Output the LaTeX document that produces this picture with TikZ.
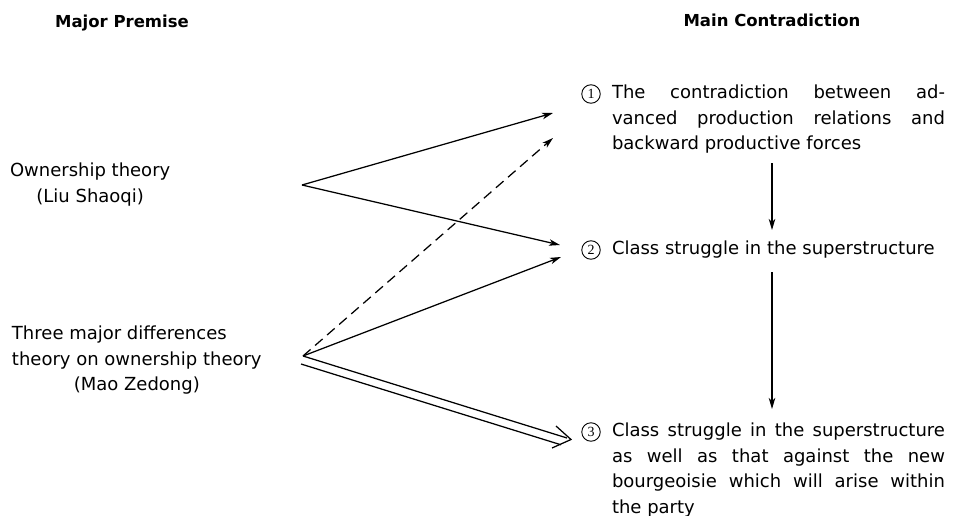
\documentclass[tikz,border=0pt]{standalone}
\usepackage{fontspec}
\setmainfont{DejaVu Sans}
\newfontfamily\numfont{Liberation Serif}
\usetikzlibrary{arrows.meta,calc}
\begin{document}
\begin{tikzpicture}[x=1pt,y=-1pt,
  body/.style={inner sep=0pt, outer sep=0pt, font=\fontsize{18}{25.5}\selectfont},
  head/.style={inner sep=0pt, font=\fontsize{16.5}{20}\selectfont\bfseries},
  item/.style={body, text width=333pt, align=justify, anchor=north west},
  num/.style={circle, draw, line width=0.9pt, minimum size=18.5pt, inner sep=0pt, font=\numfont\fontsize{14}{14}\selectfont},
  conn/.style={line width=1.25pt, -{Stealth[length=11pt,width=6.5pt,inset=3pt]}},
  dashconn/.style={conn, dash pattern=on 10pt off 6pt},
  plain/.style={line width=1.25pt}
]
\useasboundingbox[fill=white] (0,0) rectangle (960,516);

% headers
\node[head, anchor=base] (hl) at (122,28) {Major Premise};
\node[head, anchor=base] (hr) at (772,27) {Main Contradiction};

% left premises
\node[body, align=center, anchor=north west] (own) at (10,163) {Ownership theory\\(Liu Shaoqi)};
\node[body, anchor=north west] (three) at (12,322)
  {\fontsize{18}{25.5}\selectfont\begin{tabular}{@{}l@{}}Three major differences\\theory on ownership theory\\\multicolumn{1}{@{}c@{}}{(Mao Zedong)}\end{tabular}};

% items
\node[item] (i1) at (612,85) {The contradiction between ad-\linebreak vanced production relations and\linebreak backward productive forces};
\node[item] (i2) at (612,241) {Class struggle in the superstructure};
\node[item] (i3) at (612,423) {Class struggle in the superstructure\linebreak as well as that against the new\linebreak bourgeoisie which will arise within\linebreak the party};

\node[num] (n1) at (591,94) {1};
\node[num] (n2) at (591,250) {2};
\node[num] (n3) at (591,432) {3};

% apex and end coordinates
\coordinate (p1) at (302,185);
\coordinate (p2) at (303,356);
\coordinate (e1) at (553,113);
\coordinate (e1d) at (553,138);
\coordinate (e2a) at (560,245);
\coordinate (e2b) at (561,257);
\coordinate (vx) at (772,0);

\draw[conn] (p1) -- (e1);
\draw[conn] (p1) -- (e2a);
\draw[dashconn] (p2) -- (e1d);
\draw[conn] (p2) -- (e2b);

% double arrow to item 3
\coordinate (u1) at (567,438);
\coordinate (l0) at (301,364);
\coordinate (l1) at (561,444.8);
\coordinate (tip) at (571,439.5);
\coordinate (b1) at (556,426);
\coordinate (b2) at (552,448);
\draw[plain] (p2) -- (u1);
\draw[plain] (l0) -- (l1);
\draw[plain, line join=miter] (b1) -- (tip) -- (b2);

% vertical arrows
\draw[conn] ([yshift=-10pt]i1.south -| vx) -- ([yshift=11pt]i2.north -| vx);
\draw[conn] ([yshift=-14pt]i2.south -| vx) -- ([yshift=14pt]i3.north -| vx);
\end{tikzpicture}
\end{document}
